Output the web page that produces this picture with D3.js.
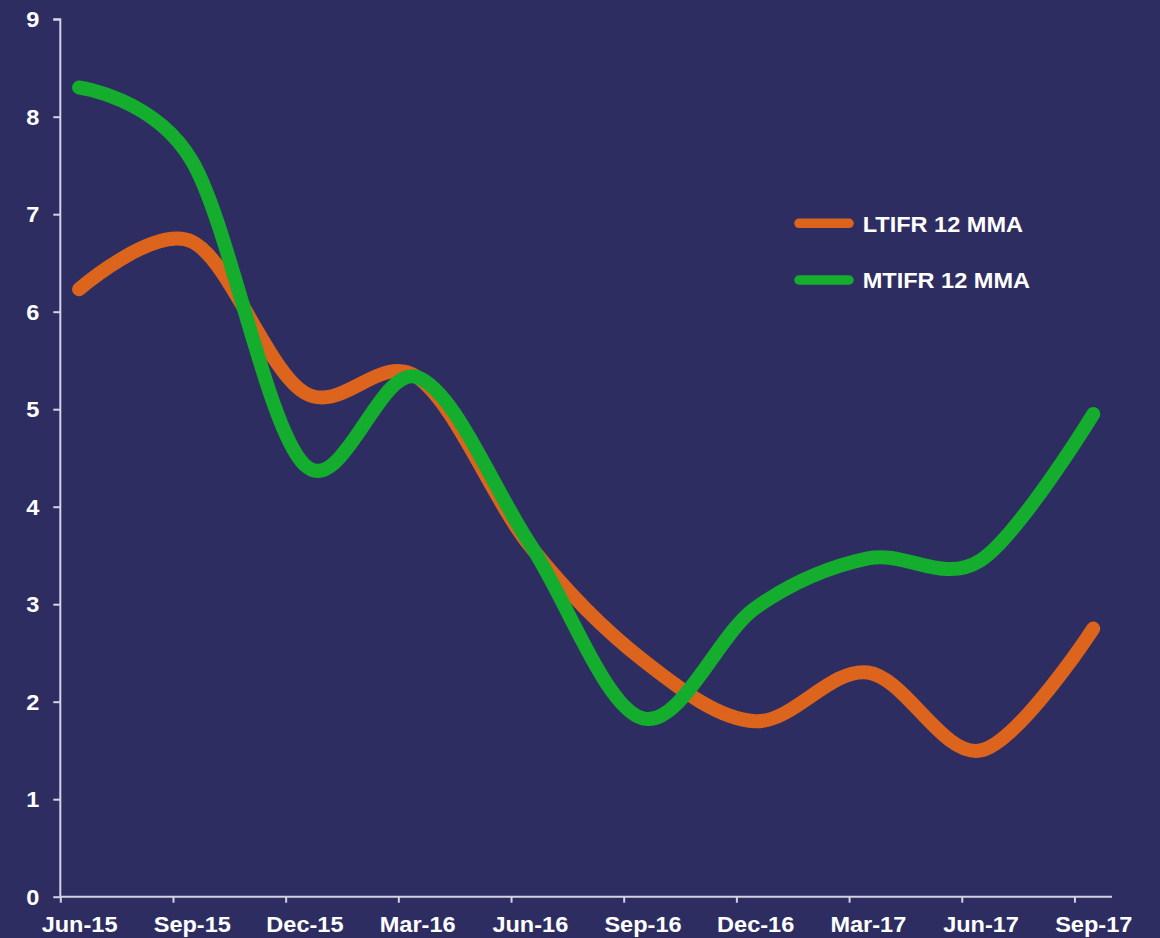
<!DOCTYPE html>
<html>
<head>
<meta charset="utf-8">
<script src="https://cdn.jsdelivr.net/npm/d3@7/dist/d3.min.js"></script>
<style>
  html, body { margin: 0; padding: 0; background: #2e2d62; }
  svg { display: block; }
  text { font-family: "Liberation Sans", Arial, sans-serif; font-weight: bold; fill: #ffffff; }
</style>
</head>
<body>
<svg id="chart" width="1160" height="938"></svg>
<script>
// Quarter labels shown on the x axis (one data point per quarter)
const quarters = ["Jun-15", "Sep-15", "Dec-15", "Mar-16", "Jun-16", "Sep-16", "Dec-16", "Mar-17", "Jun-17", "Sep-17"];
// Month index of each quarter, counted from June 2015
const monthIndex = [0, 3, 6, 9, 12, 15, 18, 21, 24, 27];
const seriesNames = ["LTIFR 12 MMA", "MTIFR 12 MMA"];
const ltifr = [6.23, 6.72, 5.17, 5.33, 3.60, 2.43, 1.80, 2.30, 1.50, 2.75];
const mtifr = [8.30, 7.55, 4.43, 5.33, 3.62, 1.83, 2.96, 3.47, 3.45, 4.95];
const yTicks = [0, 1, 2, 3, 4, 5, 6, 7, 8, 9];
const seriesColors = ["#dc641d", "#14ad2e"];

const svg = d3.select("#chart");
const plotLeft = 60.3, plotRight = 1112, plotTop = 19.2, plotBottom = 896.7;
const stretch = 1.07;   // labels are drawn slightly wide

// Monthly axis: 28 months from Jun-15 up to the start of Oct-17
const x = d3.scaleLinear().domain([0, 28]).range([plotLeft, plotRight]);
const y = d3.scaleLinear().domain([0, 9]).range([plotBottom, plotTop]);
const halfMonth = (x(1) - x(0)) / 2;

const axisColor = "#d4d3e3";

// Y axis
const yAxis = svg.append("g")
  .attr("transform", `translate(${plotLeft},0)`)
  .call(d3.axisLeft(y).tickValues(yTicks).tickFormat(d3.format("d")).tickSize(7).tickPadding(14));
yAxis.select(".domain").attr("stroke", axisColor).attr("stroke-width", 2).attr("d", `M-7,${y(9)}H0V${y(0)}`);
yAxis.selectAll(".tick line").attr("stroke", axisColor).attr("stroke-width", 2);
yAxis.selectAll(".tick text")
  .attr("fill", "#ffffff").attr("font-size", 22)
  .attr("font-family", "Liberation Sans, Arial, sans-serif").attr("font-weight", "bold")
  .attr("x", -21 / stretch).attr("dy", "0.35em")
  .attr("transform", `scale(${stretch},1)`);

// X axis: ticks at quarter starts, labels centred on the month
const xAxis = svg.append("g")
  .attr("transform", `translate(0,${plotBottom})`)
  .call(d3.axisBottom(x).tickValues(monthIndex).tickFormat((d, i) => quarters[i]).tickSize(6));
xAxis.select(".domain").attr("stroke", axisColor).attr("stroke-width", 2).attr("d", `M${plotLeft},0H${plotRight}`);
xAxis.selectAll(".tick line").attr("stroke", axisColor).attr("stroke-width", 2);
xAxis.selectAll(".tick text")
  .attr("fill", "#ffffff").attr("font-size", 22)
  .attr("font-family", "Liberation Sans, Arial, sans-serif").attr("font-weight", "bold")
  .attr("x", halfMonth / stretch).attr("y", 35).attr("dy", 0)
  .attr("transform", `scale(${stretch},1)`);

// Smoothed series lines
const line = d3.line()
  .x(d => x(d.m + 0.5))
  .y(d => y(d.v))
  .curve(d3.curveCardinal.tension(0));

[ltifr, mtifr].forEach((vals, s) => {
  const pts = vals.map((v, i) => ({ m: monthIndex[i], v }));
  svg.append("path")
    .datum(pts)
    .attr("d", line)
    .attr("fill", "none")
    .attr("stroke", seriesColors[s])
    .attr("stroke-width", 14)
    .attr("stroke-linecap", "round")
    .attr("stroke-linejoin", "round");
});

// Legend
const legendY = [223.3, 280];
seriesNames.forEach((name, s) => {
  const g = svg.append("g").attr("transform", `translate(0,${legendY[s]})`);
  g.append("line")
    .attr("x1", 799).attr("x2", 849).attr("y1", 0).attr("y2", 0)
    .attr("stroke", seriesColors[s]).attr("stroke-width", 9.5).attr("stroke-linecap", "round");
  g.append("text")
    .attr("transform", `translate(862.7,8.2) scale(${stretch},1)`)
    .attr("font-size", 22)
    .text(name);
});
</script>
</body>
</html>
